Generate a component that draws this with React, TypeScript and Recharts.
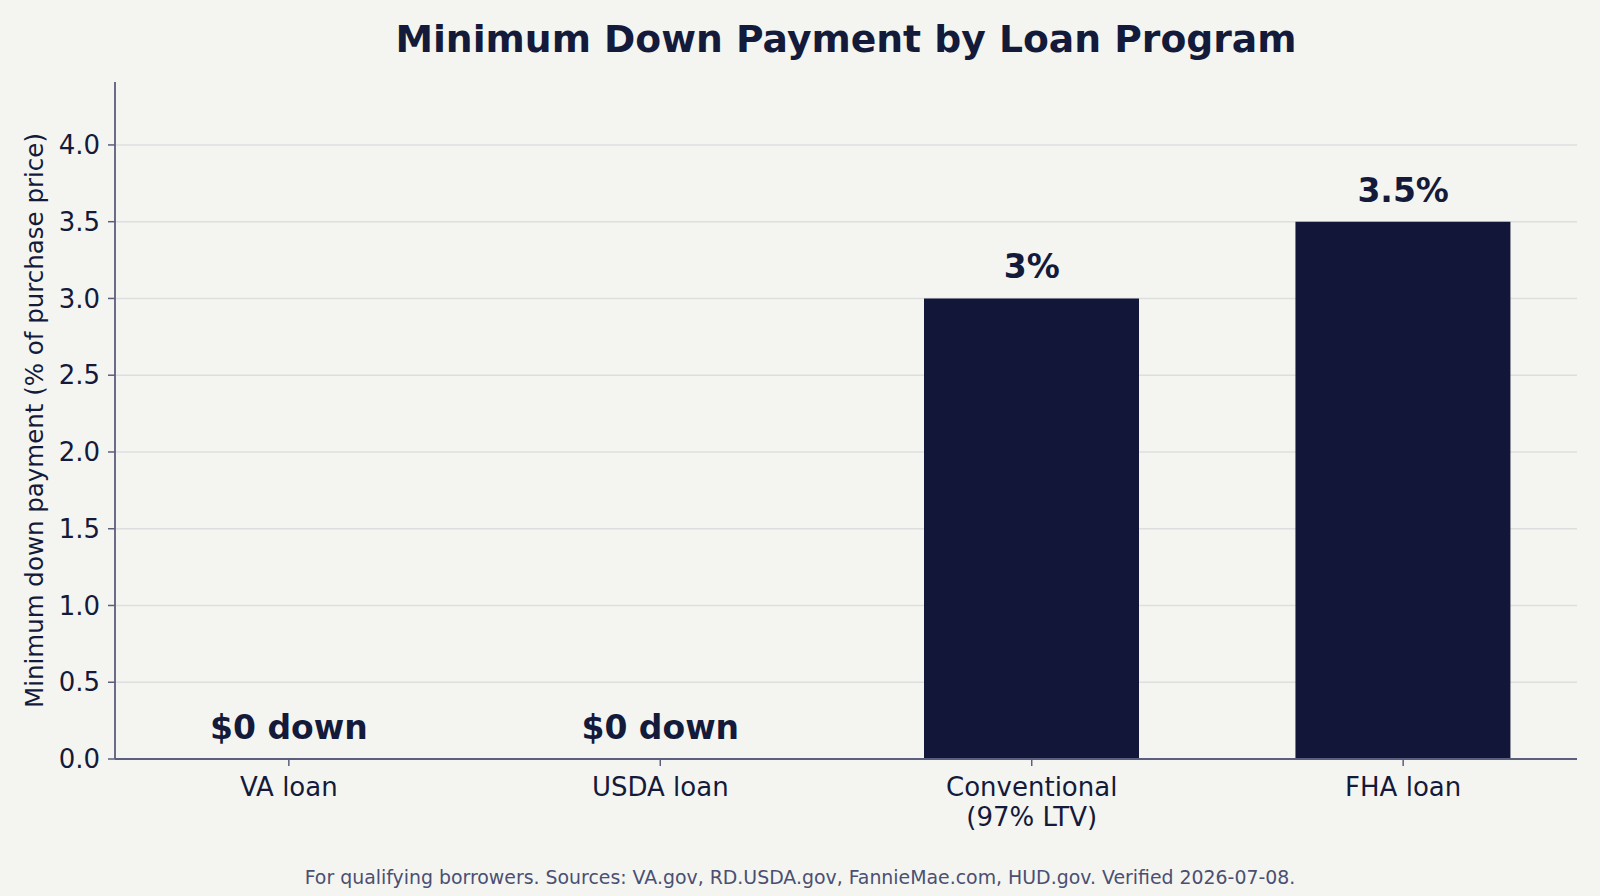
import {
  ComposedChart,
  Bar,
  Line,
  CartesianGrid,
  LabelList,
  XAxis,
  YAxis,
} from "recharts";

const programs = ["VA loan", "USDA loan", "Conventional\n(97% LTV)", "FHA loan"];
const minDown = [0, 0, 3, 3.5];
const barLabels = ["$0 down", "$0 down", "3%", "3.5%"];
const yTicks = [0, 0.5, 1, 1.5, 2, 2.5, 3, 3.5, 4];

const data = programs.map((name, i) => ({
  idx: i,
  name,
  value: minDown[i],
  label: barLabels[i],
}));

const INK = "#141a3a";
const FONT = "DejaVu Sans, sans-serif";

function ProgramTick({ x, y, payload }: any) {
  const lines = programs[payload.value].split("\n");
  return (
    <text x={x} y={y} textAnchor="middle" fill={INK} fontSize={26} fontFamily={FONT}>
      {lines.map((line, i) => (
        <tspan key={i} x={x} dy={i === 0 ? 28 : 29.5}>
          {line}
        </tspan>
      ))}
    </text>
  );
}

// labels sit above each bar top (or above the baseline for zero bars)
function ValueLabel({ x, y, value }: any) {
  return (
    <text
      x={x}
      y={y - 20}
      textAnchor="middle"
      fill={INK}
      fontSize={33}
      fontWeight="bold"
      fontFamily={FONT}
    >
      {value}
    </text>
  );
}

function YTitle({ viewBox }: any) {
  const cy = viewBox.y + viewBox.height / 2;
  return (
    <text
      x={34}
      y={cy}
      transform={`rotate(-90 34 ${cy})`}
      textAnchor="middle"
      dominantBaseline="central"
      fill={INK}
      fontSize={24.5}
      fontFamily={FONT}
    >
      Minimum down payment (% of purchase price)
    </text>
  );
}

export default function App() {
  return (
    <div
      style={{
        position: "absolute",
        left: 0,
        top: 0,
        width: 1600,
        height: 896,
        background: "#f4f5f1",
        fontFamily: FONT,
      }}
    >
      <div
        style={{
          position: "absolute",
          left: 115,
          width: 1462,
          top: 16,
          textAlign: "center",
          fontSize: 37.7,
          fontWeight: "bold",
          color: INK,
          lineHeight: "46px",
        }}
      >
        Minimum Down Payment by Loan Program
      </div>

      <ComposedChart
        width={1600}
        height={896}
        data={data}
        margin={{ top: 82, right: 23, bottom: 37, left: 0 }}
      >
        <CartesianGrid
          vertical={false}
          horizontalValues={yTicks}
          stroke="#dedede"
          strokeWidth={1.5}
        />
        <XAxis
          dataKey="idx"
          type="number"
          domain={[-0.468, 3.468]}
          ticks={[0, 1, 2, 3]}
          height={100}
          tickSize={7}
          tick={<ProgramTick />}
          axisLine={{ stroke: "#5b5e7c", strokeWidth: 1.8 }}
          tickLine={{ stroke: "#5b5e7c", strokeWidth: 1.5 }}
          allowDataOverflow
        />
        <YAxis
          width={115}
          domain={[0, 4.41]}
          ticks={yTicks}
          allowDataOverflow
          tickFormatter={(v: number) => v.toFixed(1)}
          tickSize={7}
          tickMargin={8}
          tick={{ fill: INK, fontSize: 26, fontFamily: FONT }}
          axisLine={{ stroke: "#5b5e7c", strokeWidth: 1.8 }}
          tickLine={{ stroke: "#5b5e7c", strokeWidth: 1.5 }}
          label={{ content: <YTitle /> }}
        />
        <Bar dataKey="value" fill="#12173a" barSize={215} isAnimationActive={false} />
        <Line
          dataKey="value"
          stroke="none"
          dot={false}
          activeDot={false}
          isAnimationActive={false}
        >
          <LabelList dataKey="label" content={<ValueLabel />} />
        </Line>
      </ComposedChart>

      <div
        style={{
          position: "absolute",
          left: 0,
          width: 1600,
          top: 865,
          textAlign: "center",
          fontSize: 18.9,
          color: "#4b4f72",
          lineHeight: "24px",
        }}
      >
        For qualifying borrowers. Sources: VA.gov, RD.USDA.gov, FannieMae.com, HUD.gov. Verified 2026-07-08.
      </div>
    </div>
  );
}
